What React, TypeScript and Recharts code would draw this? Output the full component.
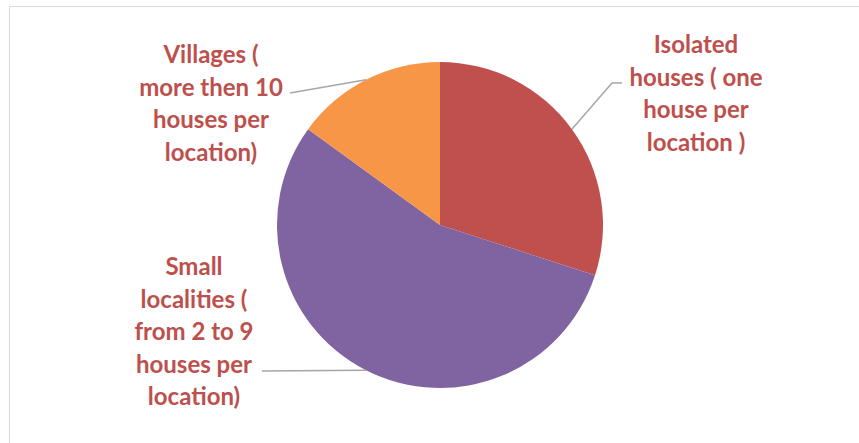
import React from "react";
import { PieChart, Pie, Cell } from "recharts";

const categories: string[] = [
  "Isolated\nhouses ( one\nhouse per\nlocation )",
  "Small\nlocalities (\nfrom 2 to 9\nhouses per\nlocation)",
  "Villages (\nmore then 10\nhouses per\nlocation)",
];
const values: number[] = [30, 55, 15];
const colors: string[] = ["#C0504D", "#8064A2", "#F79646"];

const data = categories.map((name, i) => ({ name, value: values[i] }));

// label layout (offsets relative to pie centre)
const labelLayout = [
  { elbow: [172, -142], end: [182, -142], tx: 256, ty: -172 },
  { elbow: null, end: [-178, 146], tx: -246, ty: 50 },
  { elbow: null, end: [-150, -132], tx: -229, ty: -162 },
];

const RAD = Math.PI / 180;
const LINE_H = 32.5;
const TEXT_COLOR = "#BD504D";

const renderLabel = (props: any) => {
  const { cx, cy, midAngle, outerRadius, index } = props;
  const lay = labelLayout[index];
  const sx = cx + outerRadius * Math.cos(-midAngle * RAD);
  const sy = cy + outerRadius * Math.sin(-midAngle * RAD);
  const pts: number[][] = [[sx, sy]];
  if (lay.elbow) pts.push([cx + lay.elbow[0], cy + lay.elbow[1]]);
  pts.push([cx + lay.end[0], cy + lay.end[1]]);
  const lines = categories[index].split("\n");
  const tx = cx + lay.tx;
  const ty = cy + lay.ty;
  return (
    <g key={`lbl-${index}`}>
      <polyline
        points={pts.map((p) => p.join(",")).join(" ")}
        fill="none"
        stroke="#A6A6A6"
        strokeWidth={1.5}
      />
      <text
        x={tx}
        y={ty}
        textAnchor="middle"
        fill={TEXT_COLOR}
        fontFamily="Lato, 'Open Sans', sans-serif"
        fontWeight={700}
        fontSize={24}
      >
        {lines.map((l, i) => (
          <tspan key={i} x={tx} dy={i === 0 ? 0 : LINE_H}>
            {l}
          </tspan>
        ))}
      </text>
    </g>
  );
};

export default function App() {
  return (
    <div
      style={{
        position: "absolute",
        left: 0,
        top: 0,
        width: 859,
        height: 443,
        background: "#fff",
        overflow: "hidden",
      }}
    >
      <div
        style={{
          position: "absolute",
          left: 9,
          top: 6,
          width: 900,
          height: 500,
          borderTop: "1.5px solid #DADADA",
          borderLeft: "1.5px solid #DADADA",
        }}
      />
      <div style={{ position: "absolute", left: 0, top: 0 }}>
        <PieChart
          width={859}
          height={443}
          margin={{ top: 0, right: 0, bottom: 0, left: 0 }}
        >
          <Pie
            data={data}
            dataKey="value"
            nameKey="name"
            cx={440}
            cy={225}
            outerRadius={163}
            startAngle={90}
            endAngle={-270}
            stroke="none"
            isAnimationActive={false}
            label={renderLabel}
            labelLine={false}
          >
            {data.map((d, i) => (
              <Cell key={d.name} fill={colors[i]} />
            ))}
          </Pie>
        </PieChart>
      </div>
    </div>
  );
}
